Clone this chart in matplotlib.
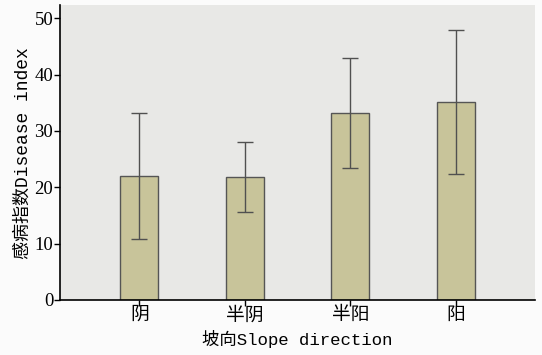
import matplotlib.pyplot as plt

# Disease index by slope direction (mean with error bars)
slopes = ['阴', '半阴', '半阳', '阳']
disease_index = [22.0, 21.8, 33.2, 35.1]
errors = [11.2, 6.2, 9.7, 12.8]

cjk_mono = ['Liberation Mono', 'Noto Sans CJK SC']
cjk_serif = ['Liberation Serif', 'Noto Sans CJK SC']

fig = plt.figure(figsize=(5.42, 3.55), dpi=100, facecolor='#fbfbfb')
ax = fig.add_axes([0.111, 0.155, 0.876, 0.83])
ax.set_facecolor('#e8e8e6')

x = range(len(slopes))
ax.bar(x, disease_index, width=0.36, color='#c8c49a', edgecolor='#555555', linewidth=1.0,
       yerr=errors, error_kw=dict(ecolor='#505050', elinewidth=1.0, capsize=6, capthick=1.0))

ax.set_xlim(-0.75, 3.75)
ax.set_ylim(0, 52.3)
ax.set_yticks([0, 10, 20, 30, 40, 50])
ax.set_xticks(list(x))
ax.set_xticklabels(slopes, family=cjk_serif, fontsize=13.5)
for lbl in ax.get_yticklabels():
    lbl.set_family(cjk_serif)
    lbl.set_fontsize(13.5)

for side in ['top', 'right']:
    ax.spines[side].set_visible(False)
ax.spines['left'].set_linewidth(1.2)
ax.spines['bottom'].set_linewidth(1.2)
ax.tick_params(axis='both', direction='out', length=4, width=1, colors='black', pad=1)

ax.set_xlabel('坡向Slope direction', family=cjk_mono, fontsize=12.5, labelpad=4)
ax.set_ylabel('感病指数Disease index', family=cjk_mono, fontsize=13, labelpad=2)

fig.savefig('out.png', dpi=100, facecolor=fig.get_facecolor())
